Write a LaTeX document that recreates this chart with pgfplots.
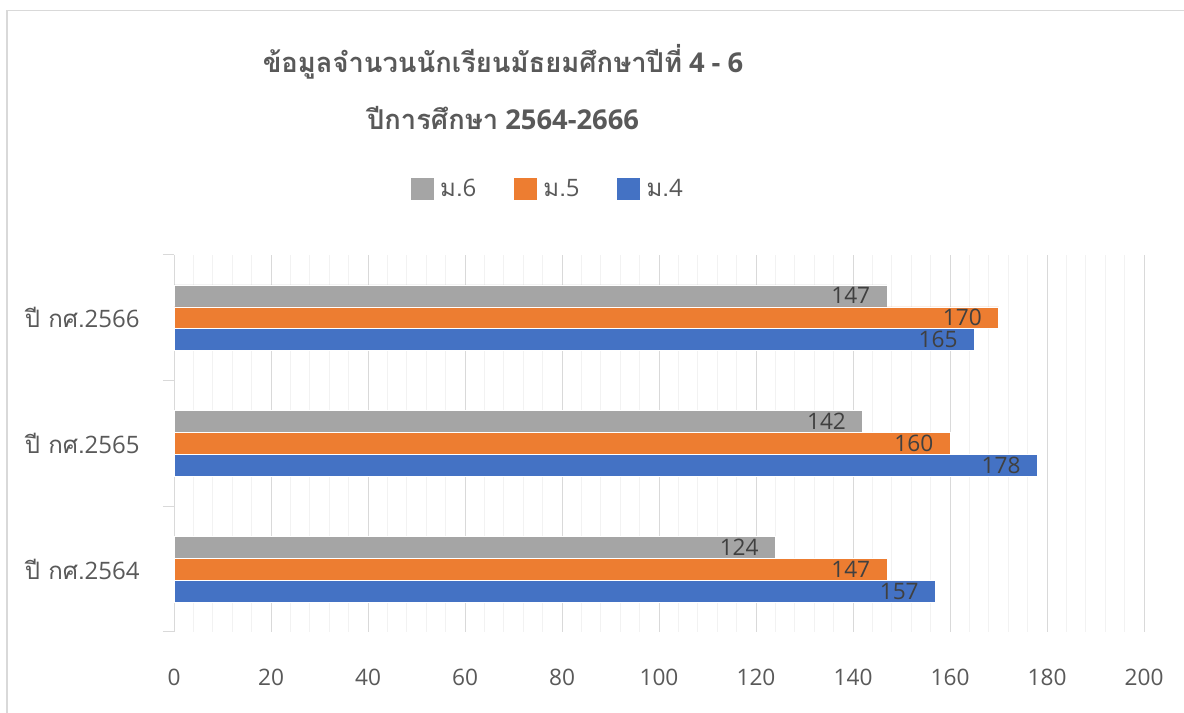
\documentclass[border=0pt]{standalone}
\usepackage{fontspec}
\setmainfont{Open Sans}
\newfontfamily\thai[Script=Thai]{Loma}
\usepackage{pgfplots}
\pgfplotsset{compat=1.18}
\definecolor{c4}{HTML}{4472C4}
\definecolor{c5}{HTML}{ED7D31}
\definecolor{c6}{HTML}{A5A5A5}
\definecolor{txt}{HTML}{595959}
\definecolor{lbl}{HTML}{404040}
\definecolor{majgrid}{HTML}{D9D9D9}
\definecolor{mingrid}{HTML}{F2F2F2}
\begin{document}
\begin{tikzpicture}[x=0.75pt,y=0.75pt]
\useasboundingbox (0,0) rectangle (1184,713);
\fill[white] (0,0) rectangle (1184,713);
\draw[majgrid, line width=1pt] (7,-20) -- (7,702.5) -- (1200,702.5);
\node[font=\bfseries\fontsize{20.5}{24}\selectfont, text=txt] at (503,651) {{\thai ข้อมูลจำนวนนักเรียนมัธยมศึกษาปีที่} 4 - 6};
\node[font=\bfseries\fontsize{20.5}{24}\selectfont, text=txt] at (503,595) {{\thai ปีการศึกษา} 2564-2666};
\begin{axis}[
  at={(130.5pt,60.75pt)}, anchor=south west,
  scale only axis, width=727.5pt, height=282.75pt,
  xbar, xmin=0, xmax=200, ymin=-0.5, ymax=2.5,
  bar width=0.175,
  xtick={0,20,...,200}, minor x tick num=4,
  xmajorgrids, xminorgrids,
  major grid style={majgrid, line width=0.75pt},
  minor grid style={mingrid, line width=1pt},
  axis lines*=left,
  x axis line style={draw=none},
  y axis line style={majgrid, line width=0.75pt},
  xtick style={draw=none},
  ytick={-0.5,0.5,1.5,2.5},
  y tick label as interval,
  yticklabels={{\thai ปี กศ.}2564, {\thai ปี กศ.}2565, {\thai ปี กศ.}2566},
  ytick style={majgrid, line width=0.75pt},
  tick align=outside, major tick length=8.25pt, minor tick length=0pt,
  tick label style={font=\fontsize{17}{20}\selectfont, text=txt},
  xticklabel style={yshift=-16pt},
  yticklabel style={xshift=-14pt, font=\fontsize{18}{20}\selectfont},
  /pgf/number format/assume math mode=true,
  point meta=x,
  nodes near coords,
  every node near coord/.append style={anchor=east, xshift=-9pt, font=\fontsize{17}{20}\selectfont, text=lbl},
  legend columns=3,
  legend style={at={(0.3856,1.175)}, anchor=center, draw=none, fill=none,
    font=\fontsize{18}{20}\selectfont, text=txt,
    /tikz/every odd column/.append style={column sep=3pt},
    /tikz/every even column/.append style={column sep=26pt}},
  legend image code/.code={\fill[#1,draw=none] (0pt,-8.6pt) rectangle (17.25pt,8.6pt);},
]
\addplot[fill=c6, draw=white, line width=0.5pt, bar shift=0.175] coordinates {(124,0) (142,1) (147,2)};
\addplot[fill=c5, draw=white, line width=0.5pt, bar shift=0] coordinates {(147,0) (160,1) (170,2)};
\addplot[fill=c4, draw=white, line width=0.5pt, bar shift=-0.175] coordinates {(157,0) (178,1) (165,2)};
\legend{{\thai ม.}6, {\thai ม.}5, {\thai ม.}4}
\end{axis}
\end{tikzpicture}
\end{document}
